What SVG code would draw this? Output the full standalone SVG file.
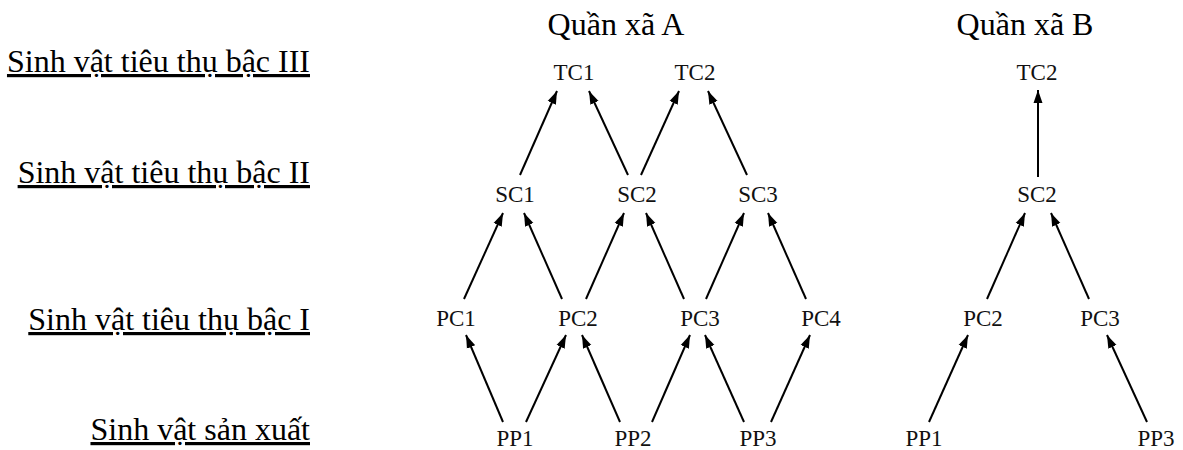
<svg xmlns="http://www.w3.org/2000/svg" width="1183" height="450" viewBox="0 0 1183 450">
<style>
.lbl{font-family:"Liberation Serif","Times New Roman",serif;font-size:32px;fill:#000;text-anchor:end;text-decoration:underline}
.ttl{font-family:"Liberation Serif","Times New Roman",serif;font-size:32px;fill:#000;text-anchor:middle}
.nd{font-family:"Liberation Serif","Times New Roman",serif;font-size:23px;fill:#111;text-anchor:middle}
.ar{stroke:#000;stroke-width:2;fill:none;marker-end:url(#ah)}
</style>
<defs>
<marker id="ah" markerUnits="userSpaceOnUse" markerWidth="14" markerHeight="10" refX="13" refY="5" orient="auto">
<path d="M0,0.5 L13,5 L0,9.5 z" fill="#000"/>
</marker>
</defs>
<rect width="1183" height="450" fill="#fff"/>
<g id="labels">
<text class="lbl" x="310" y="72">Sinh vật tiêu thụ bậc III</text>
<text class="lbl" x="310" y="183">Sinh vật tiêu thụ bậc II</text>
<text class="lbl" x="310" y="330">Sinh vật tiêu thụ bậc I</text>
<text class="lbl" x="310" y="440">Sinh vật sản xuất</text>
</g>
<g id="titles">
<text class="ttl" x="616" y="35">Quần xã A</text>
<text class="ttl" x="1025" y="35">Quần xã B</text>
</g>
<g id="A-TC1"><text class="nd" x="574" y="80">TC1</text></g>
<g id="A-TC2"><text class="nd" x="695" y="80">TC2</text></g>
<g id="A-SC1"><text class="nd" x="515" y="202">SC1</text></g>
<g id="A-SC2"><text class="nd" x="637" y="202">SC2</text></g>
<g id="A-SC3"><text class="nd" x="758" y="202">SC3</text></g>
<g id="A-PC1"><text class="nd" x="456" y="326">PC1</text></g>
<g id="A-PC2"><text class="nd" x="578" y="326">PC2</text></g>
<g id="A-PC3"><text class="nd" x="700" y="326">PC3</text></g>
<g id="A-PC4"><text class="nd" x="821" y="326">PC4</text></g>
<g id="A-PP1"><text class="nd" x="515" y="446">PP1</text></g>
<g id="A-PP2"><text class="nd" x="633" y="446">PP2</text></g>
<g id="A-PP3"><text class="nd" x="758" y="446">PP3</text></g>
<g id="B-TC2"><text class="nd" x="1037" y="80">TC2</text></g>
<g id="B-SC2"><text class="nd" x="1037" y="202">SC2</text></g>
<g id="B-PC2"><text class="nd" x="983" y="326">PC2</text></g>
<g id="B-PC3"><text class="nd" x="1100" y="326">PC3</text></g>
<g id="B-PP1"><text class="nd" x="924" y="446">PP1</text></g>
<g id="B-PP3"><text class="nd" x="1156" y="446">PP3</text></g>
<g id="connectors">
<line class="ar" x1="520" y1="175" x2="557" y2="91"/>
<line class="ar" x1="628" y1="175" x2="589" y2="91"/>
<line class="ar" x1="641" y1="175" x2="679" y2="91"/>
<line class="ar" x1="747" y1="175" x2="708" y2="91"/>
<line class="ar" x1="464" y1="299" x2="503" y2="213"/>
<line class="ar" x1="562" y1="299" x2="524" y2="213"/>
<line class="ar" x1="586" y1="299" x2="624" y2="213"/>
<line class="ar" x1="684" y1="299" x2="646" y2="213"/>
<line class="ar" x1="706" y1="299" x2="744" y2="213"/>
<line class="ar" x1="806" y1="299" x2="768" y2="213"/>
<line class="ar" x1="503" y1="422" x2="466" y2="335"/>
<line class="ar" x1="526" y1="422" x2="566" y2="335"/>
<line class="ar" x1="620" y1="422" x2="582" y2="335"/>
<line class="ar" x1="652" y1="422" x2="690" y2="335"/>
<line class="ar" x1="744" y1="422" x2="705" y2="335"/>
<line class="ar" x1="771" y1="422" x2="810" y2="335"/>
<line class="ar" x1="1038" y1="177" x2="1038" y2="90"/>
<line class="ar" x1="987" y1="299" x2="1025" y2="213"/>
<line class="ar" x1="1089" y1="299" x2="1051" y2="213"/>
<line class="ar" x1="929" y1="422" x2="968" y2="335"/>
<line class="ar" x1="1147" y1="422" x2="1107" y2="335"/>
</g>
</svg>
